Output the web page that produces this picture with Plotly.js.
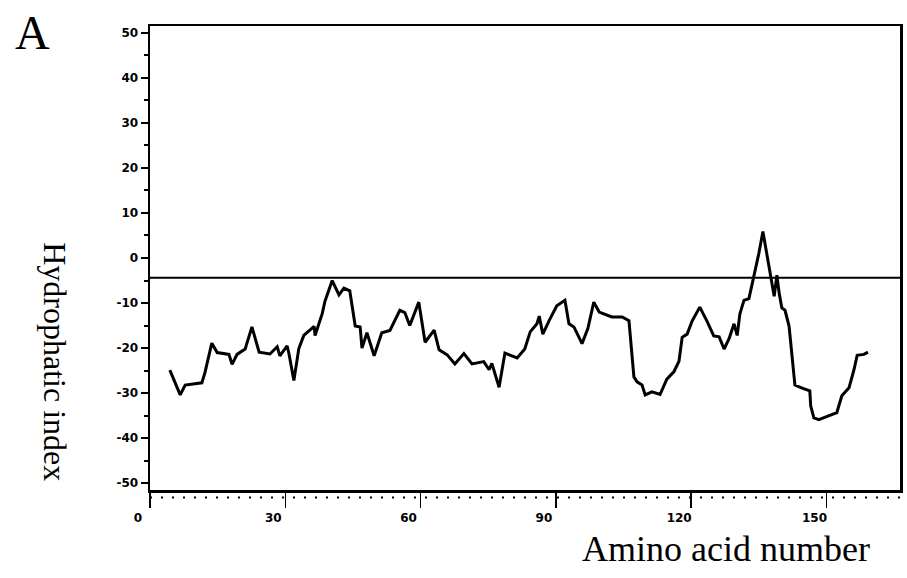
<!DOCTYPE html>
<html>
<head>
<meta charset="utf-8">
<script src="https://cdn.plot.ly/plotly-3.0.1.min.js"></script>
<style>html,body{margin:0;padding:0;background:#fff;}#chart{width:907px;height:578px;}</style>
</head>
<body>
<div id="chart"></div>
<script>
// Amino acid position (x) and hydrophatic index (y)
const aminoAcid = [4.4,6.7,7.8,11.5,12.2,13.1,13.7,14.9,17.5,18.2,19.3,21.1,22.6,24.2,26.6,28.2,28.8,30.4,30.8,31.9,33.0,34.1,36.4,36.6,38.2,38.8,39.7,40.4,41.9,43.0,44.3,45.5,46.6,47.0,48.1,49.7,51.4,53.2,55.4,56.5,57.6,58.8,59.6,61.0,63.0,64.1,65.9,67.6,69.6,71.4,74.0,75.2,75.8,77.4,78.7,81.4,83.1,84.3,85.8,86.3,87.1,88.5,90.2,92.0,92.9,94.0,95.8,97.1,98.4,99.6,102.4,104.7,106.2,107.3,108.0,109.1,109.8,111.3,113.1,114.6,116.2,117.3,118.0,119.1,120.2,121.9,123.5,125.0,126.2,127.3,128.4,129.5,130.2,130.8,131.7,132.8,134.1,135.0,135.9,137.2,137.9,138.4,139.0,139.5,140.1,140.8,141.7,142.4,143.0,144.6,146.3,146.5,147.2,148.3,150.6,152.3,153.4,155.0,156.1,156.8,158.3,159.2];
const hydroIndex = [-24.9,-30.4,-28.2,-27.7,-25.4,-21.1,-18.9,-21.0,-21.4,-23.6,-21.4,-20.2,-15.3,-20.9,-21.3,-19.7,-21.7,-19.5,-21.2,-27.2,-20.1,-17.2,-15.2,-17.2,-12.3,-9.6,-7.2,-5.0,-8.2,-6.7,-7.3,-15.1,-15.3,-20.0,-16.6,-21.7,-16.6,-16.1,-11.6,-12.1,-15.0,-12.0,-9.8,-18.7,-16.0,-20.4,-21.5,-23.5,-21.2,-23.5,-23.0,-24.8,-23.4,-28.7,-21.1,-22.2,-20.2,-16.4,-14.6,-12.9,-16.9,-13.9,-10.6,-9.4,-14.6,-15.3,-19.0,-15.6,-9.8,-12.0,-13.1,-13.1,-13.9,-26.4,-27.5,-28.2,-30.4,-29.7,-30.3,-26.9,-25.2,-22.9,-17.6,-16.9,-14.0,-10.9,-14.0,-17.3,-17.5,-20.2,-17.9,-14.6,-17.2,-12.4,-9.4,-9.0,-3.4,1.0,5.9,-1.2,-4.9,-8.5,-3.8,-7.8,-11.1,-11.6,-15.1,-21.8,-28.2,-28.9,-29.5,-32.8,-35.5,-35.9,-35.0,-34.3,-30.6,-28.8,-24.8,-21.6,-21.4,-20.9];
const threshold = -4.4;
const xTickVals = [0, 30, 60, 90, 120, 150];
const xTickText = ["0", "30", "60", "90", "120", "150"];
const yTickVals = [50, 40, 30, 20, 10, 0, -10, -20, -30, -40, -50];
const yTickText = ["50", "40", "30", "20", "10", "0", "-10", "-20", "-30", "-40", "-50"];

const serif = "Liberation Serif, Times New Roman, serif";
const tickFont = {family: "DejaVu Sans, sans-serif", size: 12, color: "#000", weight: "bold"};

const trace = {
  x: aminoAcid, y: hydroIndex, mode: "lines", type: "scatter",
  line: {color: "#000", width: 3}, hoverinfo: "skip", showlegend: false
};

const layout = {
  width: 907, height: 578,
  margin: {l: 150, r: 7, t: 26, b: 88},
  paper_bgcolor: "#fff", plot_bgcolor: "#fff",
  showlegend: false,
  xaxis: {
    range: [0, 166.3], showgrid: false, zeroline: false,
    showline: true, mirror: true, linecolor: "#000", linewidth: 2.5,
    tickmode: "array", tickvals: xTickVals, ticktext: xTickText,
    ticks: "outside", ticklen: 15, tickwidth: 1.5, tickcolor: "#000",
    tickfont: tickFont, ticklabelshift: -12
  },
  yaxis: {
    range: [-51.5, 51.5], showgrid: false, zeroline: false,
    showline: true, mirror: true, linecolor: "#000", linewidth: 2.5,
    tickmode: "array", tickvals: yTickVals, ticktext: yTickText,
    ticks: "outside", ticklen: 7, tickwidth: 2, tickcolor: "#000",
    minor: {dtick: 5, ticks: "outside", ticklen: 4, tickwidth: 2, tickcolor: "#000", showgrid: false},
    tickfont: tickFont
  },
  shapes: [
    {type: "line", xref: "paper", x0: 0, x1: 1, yref: "y", y0: threshold, y1: threshold,
     line: {color: "#000", width: 2}},
    {type: "line", xref: "paper", x0: 0, x1: 1, yref: "paper", y0: -0.016, y1: -0.016,
     line: {color: "#000", width: 2, dash: "2px,9px"}}
  ],
  annotations: [
    {text: "A", xref: "paper", yref: "paper", x: -0.157, y: 0.985, showarrow: false,
     xanchor: "center", yanchor: "middle", font: {family: serif, size: 48, color: "#000"}},
    {text: "Hydrophatic index", xref: "paper", yref: "paper", x: -0.127, y: 0.276, showarrow: false,
     textangle: 90, xanchor: "center", yanchor: "middle", font: {family: serif, size: 32, color: "#000"}},
    {text: "Amino acid number", xref: "paper", yref: "paper", x: 0.768, y: -0.128, showarrow: false,
     xanchor: "center", yanchor: "middle", font: {family: serif, size: 36, color: "#000"}}
  ]
};

Plotly.newPlot("chart", [trace], layout, {staticPlot: true, displayModeBar: false});
</script>
</body>
</html>
